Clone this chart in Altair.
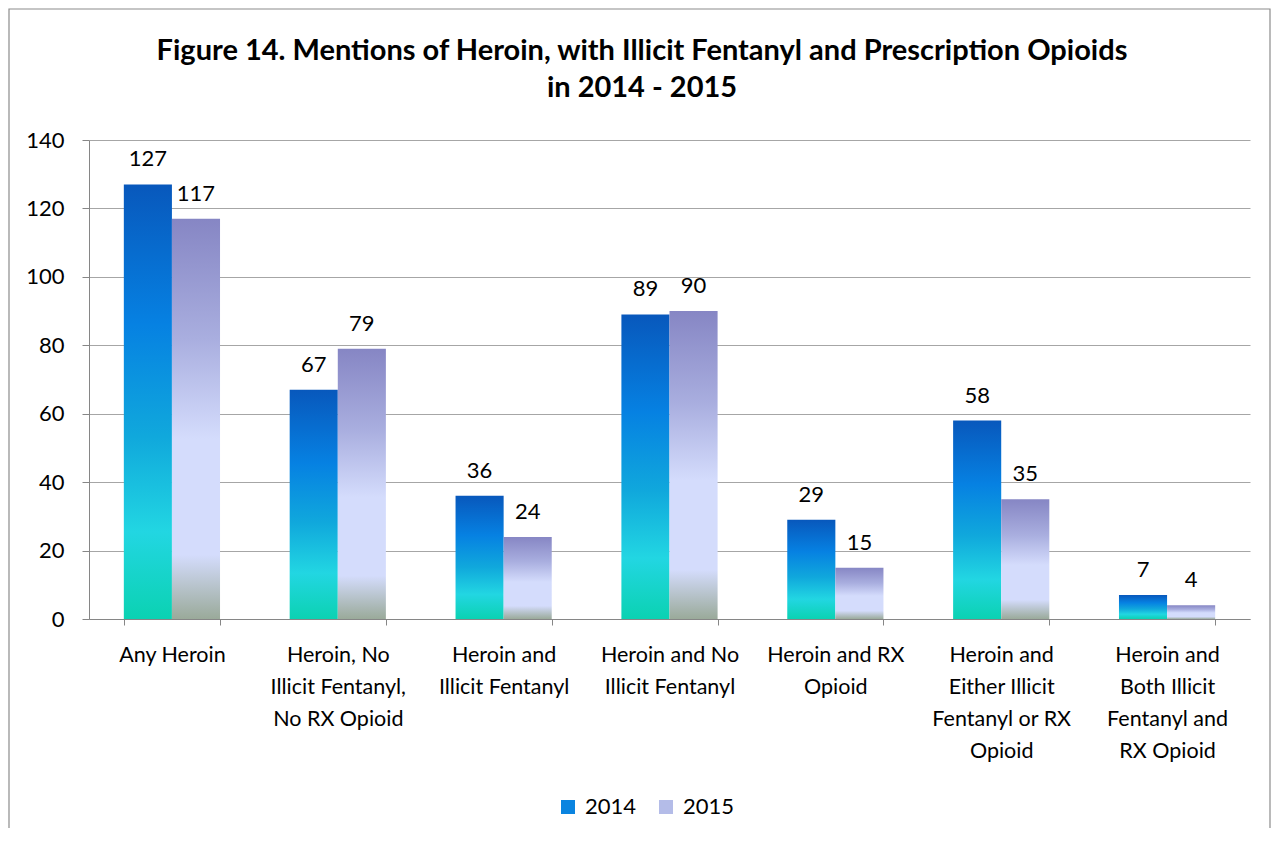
import altair as alt
import pandas as pd

categories = [
    "Any Heroin",
    "Heroin, No|Illicit Fentanyl,|No RX Opioid",
    "Heroin and|Illicit Fentanyl",
    "Heroin and No|Illicit Fentanyl",
    "Heroin and RX|Opioid",
    "Heroin and|Either Illicit|Fentanyl or RX|Opioid",
    "Heroin and|Both Illicit|Fentanyl and|RX Opioid",
]
values_2014 = [127, 67, 36, 89, 29, 58, 7]
values_2015 = [117, 79, 24, 90, 15, 35, 4]
years = ["2014", "2015"]
y_ticks = [0, 20, 40, 60, 80, 100, 120, 140]
title_lines = [
    "Figure 14. Mentions of Heroin, with Illicit Fentanyl and Prescription Opioids",
    "in 2014 - 2015",
]

rows = []
for c, a, b in zip(categories, values_2014, values_2015):
    rows.append({"category": c, "year": "2014", "value": a})
    rows.append({"category": c, "year": "2015", "value": b})
df = pd.DataFrame(rows)

FONT = "Lato"
W, H = 1161, 479

grad_2014 = alt.Gradient(
    gradient="linear", x1=0, x2=0, y1=0, y2=1,
    stops=[
        alt.GradientStop(color="#0858bc", offset=0.0),
        alt.GradientStop(color="#0681e2", offset=0.32),
        alt.GradientStop(color="#10a8dc", offset=0.58),
        alt.GradientStop(color="#22d6e2", offset=0.80),
        alt.GradientStop(color="#0bd2b2", offset=1.0),
    ],
)
grad_2015 = alt.Gradient(
    gradient="linear", x1=0, x2=0, y1=0, y2=1,
    stops=[
        alt.GradientStop(color="#8686c4", offset=0.0),
        alt.GradientStop(color="#a9aedf", offset=0.30),
        alt.GradientStop(color="#d4dcfc", offset=0.55),
        alt.GradientStop(color="#d4dcfc", offset=0.84),
        alt.GradientStop(color="#9aaa9a", offset=1.0),
    ],
)

x_enc = alt.X(
    "category:N", sort=categories,
    scale=alt.Scale(paddingInner=0.42, paddingOuter=0.21),
    axis=alt.Axis(
        title=None, labelAngle=0, labelExpr="split(datum.label, '|')",
        tickBand="extent", tickSize=6, tickColor="#868686",
        domainColor="#868686", labelFont=FONT, labelFontSize=21.5,
        labelColor="black", labelLineHeight=32, labelPadding=19,
        labelBaseline="top", grid=False,
    ),
)
xoff_enc = alt.XOffset("year:N", scale=alt.Scale(domain=years, paddingInner=0, paddingOuter=0))
y_enc = alt.Y(
    "value:Q",
    scale=alt.Scale(domain=[0, 140], nice=False),
    axis=alt.Axis(
        title=None, values=y_ticks, tickSize=7, tickColor="#868686",
        domainColor="#868686", gridColor="#a6a6a6", grid=True,
        labelFont=FONT, labelFontSize=22, labelColor="black", labelPadding=18,
    ),
)

base = alt.Chart(df).encode(x=x_enc, xOffset=xoff_enc, y=y_enc)

bars14 = base.transform_filter("datum.year == '2014'").mark_bar(fill=grad_2014)
bars15 = base.transform_filter("datum.year == '2015'").mark_bar(fill=grad_2015)

labels = base.mark_text(
    baseline="alphabetic", dy=-18, fontSize=22, font=FONT, color="black"
).encode(text="value:Q")

legend_layer = alt.Chart(df).mark_bar().encode(
    x=x_enc, xOffset=xoff_enc,
    y=alt.datum(0), y2=alt.datum(0),
    color=alt.Color(
        "year:N",
        scale=alt.Scale(domain=years, range=["#0a84e0", "#b4bce8"]),
        legend=alt.Legend(
            orient="none", legendX=468, legendY=656, direction="horizontal",
            title=None, symbolType="square", symbolSize=196,
            symbolStrokeWidth=0, labelFont=FONT, labelFontSize=22,
            labelColor="black", columnPadding=18, labelOffset=6,
        ),
    ),
)

one = pd.DataFrame({"k": [0]})
border = alt.Chart(one).mark_rect(
    filled=False, stroke="#8c8c8c", strokeWidth=1.2
).encode(
    x=alt.value(-80), x2=alt.value(1181), y=alt.value(-131), y2=alt.value(760)
)

title1 = alt.Chart(one).mark_text(
    font=FONT, fontSize=29, fontWeight="bold", color="black",
    align="center", baseline="alphabetic",
).encode(x=alt.value(553), y=alt.value(-80), text=alt.value(title_lines[0]))
title2 = alt.Chart(one).mark_text(
    font=FONT, fontSize=29, fontWeight="bold", color="black",
    align="center", baseline="alphabetic",
).encode(x=alt.value(553), y=alt.value(-43), text=alt.value(title_lines[1]))

chart = alt.layer(border, title1, title2, bars14, bars15, labels, legend_layer).properties(
    width=W, height=H,
    autosize=alt.AutoSizeParams(type="none"),
    padding={"left": 81, "top": 132, "right": 21, "bottom": 209},
).configure_view(stroke=None)

chart.save("out.html", embed_options={"renderer": "svg", "actions": False})
